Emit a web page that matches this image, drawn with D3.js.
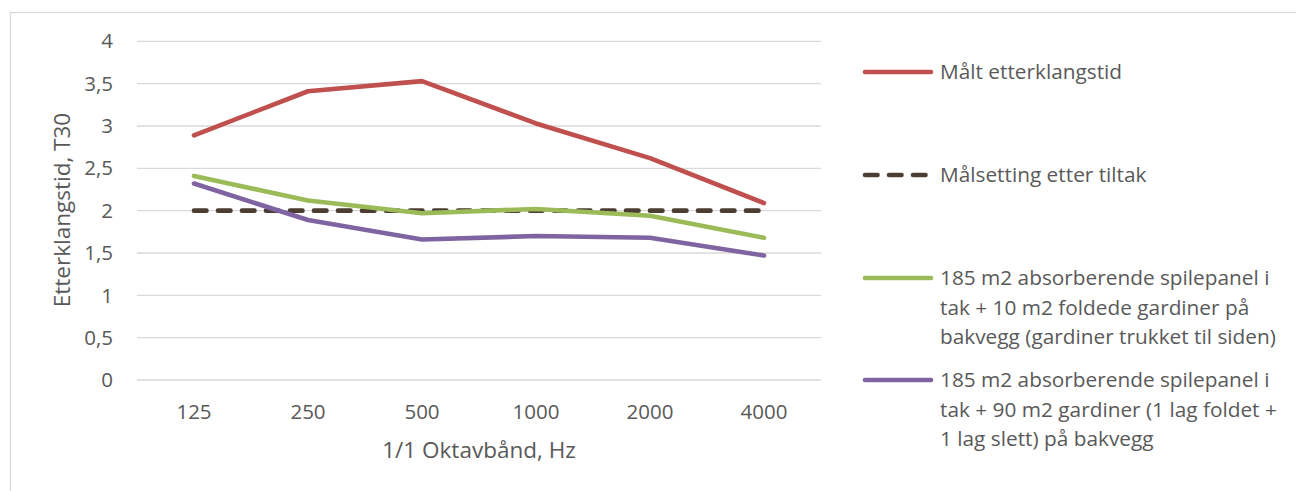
<!DOCTYPE html>
<html><head><meta charset="utf-8">
<script src="https://cdn.jsdelivr.net/npm/d3@7"></script>
<style>body{margin:0;background:#fff}text{font-family:"Open Sans",Lato,sans-serif;fill:#595959}</style>
</head><body><svg id="c" width="1296" height="491"></svg>
<script>
const categories = ["125","250","500","1000","2000","4000"];
const maalt = [2.89, 3.41, 3.53, 3.03, 2.62, 2.09];
const maalsetting = [2.0, 2.0, 2.0, 2.0, 2.0, 2.0];
const tiltak10 = [2.41, 2.12, 1.97, 2.02, 1.94, 1.68];
const tiltak90 = [2.32, 1.89, 1.66, 1.70, 1.68, 1.47];
const yTicks = [0, 0.5, 1, 1.5, 2, 2.5, 3, 3.5, 4];
const legendLines = [["Målt etterklangstid"],["Målsetting etter tiltak"],
  ["185 m2 absorberende spilepanel i","tak + 10 m2 foldede gardiner på","bakvegg (gardiner trukket til siden)"],
  ["185 m2 absorberende spilepanel i","tak + 90 m2 gardiner (1 lag foldet +","1 lag slett) på bakvegg"]];
const colors = ["#c0504d","#4b3d32","#9bbb59","#8064a2"];

const svg = d3.select("#c");
svg.append("rect").attr("x",10.5).attr("y",12.5).attr("width",1300).attr("height",500)
  .attr("fill","#fff").attr("stroke","#d9d9d9").attr("stroke-width",1.3);

const x = d3.scaleBand().domain(categories).range([137, 821]);
const y = d3.scaleLinear().domain([0,4]).range([380, 41.3]);

const g = svg.append("g");
g.selectAll("line.grid").data(yTicks).join("line").attr("class","grid")
  .attr("x1",137).attr("x2",821).attr("y1",d=>y(d)).attr("y2",d=>y(d))
  .attr("stroke","#d9d9d9").attr("stroke-width",1.3);

const fmt = d => String(d).replace(".", ",");
g.selectAll("text.yt").data(yTicks).join("text").attr("class","yt")
  .attr("x",113).attr("y",d=>y(d)).attr("dy","0.35em").attr("text-anchor","end")
  .attr("font-size",20.5).text(fmt);
g.selectAll("text.xt").data(categories).join("text").attr("class","xt")
  .attr("x",d=>x(d)+x.bandwidth()/2).attr("y",412).attr("dy","0.35em").attr("text-anchor","middle")
  .attr("font-size",20.5).text(d=>d);

svg.append("text").attr("transform","translate(62,210) rotate(-90)").attr("text-anchor","middle")
  .attr("dy","0.35em").attr("font-size",22.5).text("Etterklangstid, T30");
svg.append("text").attr("x",479).attr("y",450).attr("text-anchor","middle")
  .attr("dy","0.35em").attr("font-size",22.5).text("1/1 Oktavbånd, Hz");

const line = d3.line().x((d,i)=>x(categories[i])+x.bandwidth()/2).y(d=>y(d));
const allSeries = [maalt, maalsetting, tiltak10, tiltak90];
const drawOrder = [1,0,2,3];
drawOrder.forEach(i=>{
  const p = svg.append("path").datum(allSeries[i]).attr("d",line).attr("fill","none")
    .attr("stroke",colors[i]).attr("stroke-width",4.6).attr("stroke-linecap","round").attr("stroke-linejoin","round");
  if(i===1) p.attr("stroke-dasharray","12.5 11.5");
});

const legY = [72, 175, 278, 380];
const lg = svg.append("g");
legendLines.forEach((lines,i)=>{
  const l = lg.append("line").attr("x1",865).attr("x2",931).attr("y1",legY[i]).attr("y2",legY[i])
    .attr("stroke",colors[i]).attr("stroke-width",4.6).attr("stroke-linecap","round");
  if(i===1) l.attr("stroke-dasharray","12.5 11.5");
  lines.forEach((t,j)=>{
    lg.append("text").attr("x",940).attr("y",legY[i]+j*29.5).attr("dy","0.35em")
      .attr("font-size",20.8).text(t);
  });
});
</script></body></html>
